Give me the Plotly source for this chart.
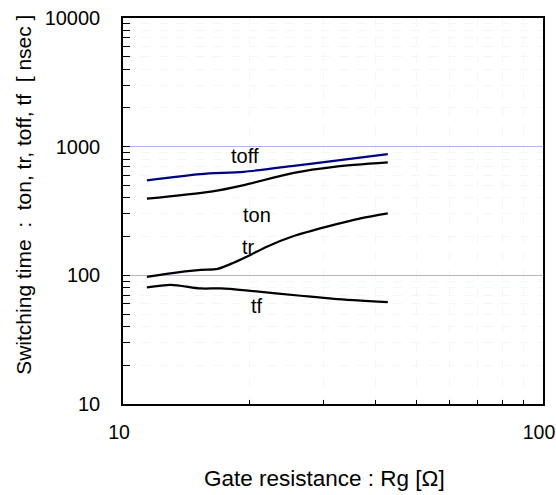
import math
import plotly.graph_objects as go

# Data
rg_toff = [11.4, 15.3, 19.4, 25.5, 31.8, 42.7]
toff = [547, 612, 638, 710, 776, 875]

rg_ton = [11.4, 16.2, 19.4, 25.5, 31.8, 42.7]
ton = [394, 447, 503, 626, 697, 754]

rg_tr = [11.4, 12.7, 15.3, 16.8, 18.4, 20.1, 22.0, 25.5, 30.6, 36.8, 42.7]
tr = [97.3, 102.8, 110.3, 112.3, 126, 144, 167, 202, 239, 277, 303]

rg_tf = [11.4, 13.0, 15.3, 17.1, 20.1, 26.5, 31.8, 42.7]
tf = [80.5, 84.4, 79.1, 79.1, 75.8, 69.4, 65.7, 62.0]

labels = ["toff", "ton", "tr", "tf"]
label_x = [19.5, 20.9, 19.95, 20.9]
label_y = [843, 294, 167, 57.3]

x_ticks = [10, 100]
y_ticks = [10, 100, 1000, 10000]

FONT = "Liberation Sans, Arial, sans-serif"

fig = go.Figure()
series = [
    (rg_toff, toff, "#000080"),
    (rg_ton, ton, "#000000"),
    (rg_tr, tr, "#000000"),
    (rg_tf, tf, "#000000"),
]
for xs, ys, c in series:
    fig.add_trace(go.Scatter(x=xs, y=ys, mode="lines",
                             line=dict(color=c, width=2.2, shape="spline", smoothing=0.8),
                             showlegend=False, hoverinfo="skip"))

for t, x, y in zip(labels, label_x, label_y):
    fig.add_annotation(x=math.log10(x), y=math.log10(y), xref="x", yref="y", text=t,
                       showarrow=False, font=dict(family=FONT, size=20, color="#000000"))

minor_x = [v * d for d in (10,) for v in range(2, 10)]
minor_y = [v * d for d in (10, 100, 1000) for v in range(2, 10)]

fig.update_xaxes(type="log", range=[1, 2], tickmode="array", tickvals=x_ticks,
                 ticktext=[str(v) for v in x_ticks], automargin=False,
                 ticks="inside", ticklen=5, tickcolor="#000000",
                 showline=True, linecolor="#000000", linewidth=1.5, mirror=True,
                 showgrid=False, zeroline=False,
                 tickfont=dict(family=FONT, size=19.5, color="#000000"),
                 ticklabelstandoff=10, ticklabelshift=-4, ticklabeloverflow="allow",
                 minor=dict(tickmode="array", tickvals=minor_x, ticks="inside", ticklen=4,
                            tickcolor="#000000", showgrid=True, gridcolor="#f0faf0",
                            griddash="dash", gridwidth=1))
fig.update_yaxes(type="log", range=[1, 4], tickmode="array", tickvals=y_ticks,
                 ticktext=[str(v) for v in y_ticks], automargin=False,
                 ticks="inside", ticklen=7, tickcolor="#000000",
                 showline=True, linecolor="#000000", linewidth=1.5, mirror=True,
                 showgrid=True, gridcolor="#b0b0ff", gridwidth=1, zeroline=False,
                 tickfont=dict(family=FONT, size=20, color="#000000"),
                 ticklabelstandoff=17, ticklabeloverflow="allow",
                 minor=dict(tickmode="array", tickvals=minor_y, ticks="inside", ticklen=7,
                            tickcolor="#000000", showgrid=True, gridcolor="#f0faf0",
                            griddash="dash", gridwidth=1))

fig.add_annotation(xref="paper", yref="paper", x=(324.5 - 122.5) / 420.2,
                   y=(404 - 479) / 386.5, xanchor="center", yanchor="middle",
                   text="Gate resistance : Rg [Ω]",
                   showarrow=False, font=dict(family=FONT, size=22.5, color="#000000"))
fig.add_annotation(xref="paper", yref="paper", x=(23 - 122.5) / 420.2,
                   y=(404 - 195) / 386.5, xanchor="center", yanchor="middle",
                   text="Switching time  :  ton, tr, toff, tf  [ nsec ]",
                   textangle=-90, showarrow=False,
                   font=dict(family=FONT, size=21, color="#000000"))

fig.update_layout(width=556, height=495,
                  margin=dict(l=122.5, r=13.3, t=17.5, b=91, autoexpand=False),
                  paper_bgcolor="#ffffff", plot_bgcolor="#ffffff")

fig.write_html("out.html", config={"displayModeBar": False},
               post_script="document.body.style.margin='0';document.body.style.overflow='hidden';")
